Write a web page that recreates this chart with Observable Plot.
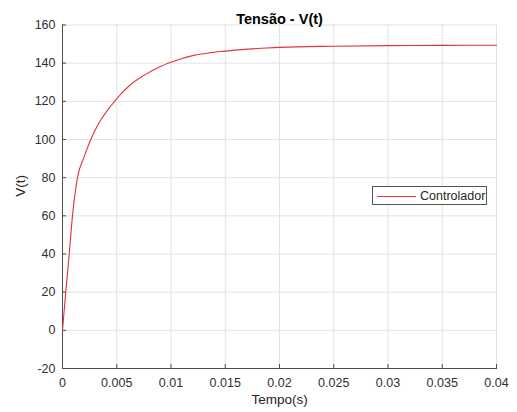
<!DOCTYPE html>
<html>
<head>
<meta charset="utf-8">
<script src="https://cdn.jsdelivr.net/npm/d3@7"></script>
<script src="https://cdn.jsdelivr.net/npm/@observablehq/plot@0.6"></script>
<style>
  html, body { margin: 0; padding: 0; background: #fff; }
  #wrap { position: relative; width: 517px; height: 412px; font-family: "Liberation Sans", Arial, sans-serif; }
  #legend { position: absolute; left: 372px; top: 186px; width: 115px; height: 19px; border: 1px solid #555; background: #fff; box-sizing: border-box; font-size: 12.5px; color: #262626; }
  #legend .ln { position: absolute; left: 4px; top: 9px; width: 39px; height: 0; border-top: 1px solid #e0333a; }
  #legend .tx { position: absolute; left: 47px; top: 1px; line-height: 16px; }
</style>
</head>
<body>
<div id="wrap"><div id="legend"><div class="ln"></div><div class="tx">Controlador</div></div></div>
<script>
const tempo = [0, 0.0003, 0.00062, 0.00092, 0.0014, 0.002, 0.00252, 0.003, 0.00353, 0.00442, 0.00537, 0.00627, 0.0075, 0.00903, 0.01088, 0.0121, 0.0135, 0.015, 0.0165, 0.0183, 0.02, 0.025, 0.03, 0.035, 0.04];
const tensao = [0, 20, 40, 60, 80.5, 91, 98.8, 104.8, 110.2, 117.3, 123.8, 128.7, 133.6, 138.3, 142.2, 144.1, 145.4, 146.3, 147.1, 147.8, 148.3, 148.9, 149.2, 149.3, 149.4];
const xTicks = [0, 0.005, 0.01, 0.015, 0.02, 0.025, 0.03, 0.035, 0.04];
const yTicks = [-20, 0, 20, 40, 60, 80, 100, 120, 140, 160];
const titleText = "Tensão - V(t)";
const xLabel = "Tempo(s)";
const yLabel = "V(t)";

const data = tempo.map((t, i) => ({t, v: tensao[i]}));
const H = 412, mt = 24.5, mb = 44, ml = 62, mr = 21;
const fh = H - mt - mb, fw = 517 - ml - mr;
const axisColor = "#4d4d4d";

const chart = Plot.plot({
  width: 517,
  height: H,
  marginTop: mt, marginBottom: mb, marginLeft: ml, marginRight: mr,
  style: {fontFamily: "Liberation Sans, Arial, sans-serif", fontSize: "12.5px", color: "#262626", background: "transparent"},
  x: {domain: [0, 0.04]},
  y: {domain: [-20, 160]},
  marks: [
    Plot.ruleX(xTicks, {x: d => d, stroke: "#e3e3e3", strokeWidth: 1}),
    Plot.ruleY(yTicks, {y: d => d, stroke: "#e3e3e3", strokeWidth: 1}),
    Plot.axisX(xTicks, {tickSize: 0, tickPadding: 10, tickFormat: d => String(d), fill: "#303030", fontSize: 12.5, label: null}),
    Plot.axisY(yTicks, {tickSize: 0, tickPadding: 7, tickFormat: d => String(d), fill: "#303030", fontSize: 12.5, label: null}),
    Plot.ruleX(xTicks, {x: d => d, insetTop: fh - 4, stroke: axisColor}),
    Plot.ruleY(yTicks, {y: d => d, insetRight: fw - 4, stroke: axisColor}),
    Plot.frame({anchor: "left", stroke: axisColor}),
    Plot.frame({anchor: "bottom", stroke: axisColor}),
    Plot.line(data, {x: "t", y: "v", stroke: "#e0333a", strokeWidth: 1.1, curve: "monotone-x"}),
    Plot.text([titleText], {text: d => d, frameAnchor: "top", dy: -11, fontWeight: "bold", fontSize: 14.5, fill: "#000"}),
    Plot.text([xLabel], {text: d => d, frameAnchor: "bottom", dy: 35, fontSize: 13.5, fill: "#262626"}),
    Plot.text([yLabel], {text: d => d, frameAnchor: "left", dx: -42, rotate: -90, fontSize: 13.5, fill: "#262626"})
  ]
});
document.getElementById("wrap").prepend(chart);
chart.style.position = "absolute";
chart.style.left = "0";
chart.style.top = "0";
</script>
</body>
</html>
